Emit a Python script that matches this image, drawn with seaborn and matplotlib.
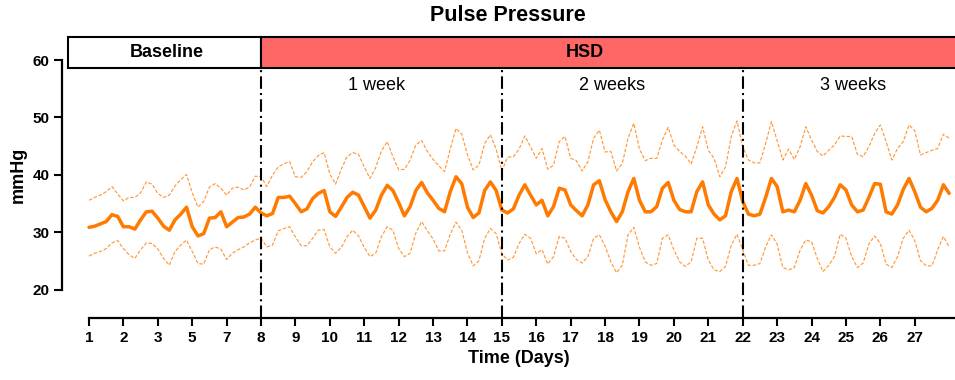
import numpy as np
import pandas as pd
import matplotlib
matplotlib.use("Agg")
import matplotlib.pyplot as plt
from matplotlib.patches import Rectangle
import seaborn as sns

# ---------------- data ----------------
tick_labels = ["1", "2", "3", "5", "7", "8", "9", "10", "11", "12", "13", "14", "15",
               "16", "17", "18", "19", "20", "21", "22", "23", "24", "25", "26", "27"]
samples_per_tick = 6          # readings every 1/6 of a tick interval (4 h)

mean_pp = [
    30.9, 31.1, 31.5, 31.9, 33.1, 32.8, 31.0, 31.0, 30.6, 32.2, 33.6, 33.7, 32.5, 31.1, 30.4, 32.2,
    33.2, 34.4, 31.0, 29.4, 29.8, 32.5, 32.6, 33.6, 31.0, 31.8, 32.6, 32.7, 33.2, 34.4, 33.4,
    32.9, 33.3, 36.1, 36.1, 36.3, 35.0, 33.6, 34.1, 35.9, 36.8, 37.3, 33.6, 32.8, 34.4, 36.1,
    37.0, 36.5, 34.5, 32.5, 33.9, 36.5, 38.2, 37.3, 35.2, 32.9, 34.5, 37.3, 38.7, 36.9, 35.6,
    34.2, 33.6, 37.1, 39.7, 38.5, 34.4, 32.6, 33.4, 37.3, 38.8, 37.3, 33.9, 33.4, 34.1, 36.5,
    38.3, 36.5, 34.8, 35.6, 32.9, 34.5, 37.7, 37.4, 34.8, 33.8, 32.9, 34.8, 38.3, 39.0, 35.7,
    33.6, 31.9, 33.6, 37.1, 39.4, 35.6, 33.6, 33.6, 34.5, 37.7, 38.7, 35.6, 34.0, 33.6, 33.6,
    37.1, 38.8, 34.8, 33.2, 32.2, 32.9, 37.1, 39.4, 35.4, 33.2, 32.9, 33.2, 36.1, 39.4, 38.0,
    33.6, 33.9, 33.6, 35.6, 38.5, 36.5, 33.8, 33.4, 34.5, 36.1, 38.3, 37.4, 34.8, 33.6, 33.9,
    36.1, 38.5, 38.4, 33.6, 33.2, 34.8, 37.5, 39.4, 37.1, 34.4, 33.6, 34.2, 35.6, 38.3, 36.8,
]
upper_pp = [
    35.6, 36.1, 36.5, 37.1, 38.0, 36.7, 35.5, 36.1, 36.1, 36.9, 38.8, 38.4, 36.8, 36.1, 36.5, 38.1,
    39.2, 40.1, 36.9, 34.4, 35.4, 37.9, 38.5, 37.7, 36.5, 37.7, 37.9, 37.4, 37.9, 39.8, 39.7,
    38.0, 40.0, 41.4, 42.0, 42.3, 39.7, 39.6, 40.6, 42.3, 43.4, 43.9, 40.2, 38.4, 41.0, 43.2,
    43.9, 43.6, 41.4, 39.4, 41.3, 44.2, 45.8, 43.2, 40.9, 41.0, 42.6, 45.2, 46.0, 44.1, 42.7,
    41.6, 40.6, 44.5, 48.1, 47.1, 43.5, 40.9, 41.7, 45.5, 47.0, 44.5, 40.7, 43.1, 43.2, 44.5,
    46.8, 44.9, 42.9, 44.6, 41.0, 41.7, 45.8, 46.7, 42.9, 42.5, 40.7, 42.3, 46.4, 47.8, 44.0,
    44.1, 40.7, 42.0, 46.4, 49.0, 44.5, 42.5, 42.9, 42.9, 46.1, 48.3, 45.2, 44.1, 43.3, 41.9,
    44.9, 48.4, 44.3, 42.9, 39.7, 41.4, 46.7, 49.4, 44.9, 42.6, 42.1, 42.1, 45.5, 49.3, 46.0,
    42.6, 44.5, 42.7, 44.9, 48.4, 46.1, 44.1, 43.3, 44.3, 45.2, 46.8, 46.7, 46.7, 43.6, 43.2,
    44.9, 47.2, 48.7, 45.8, 42.6, 44.6, 45.8, 48.7, 47.7, 43.5, 43.9, 44.3, 44.6, 47.1, 46.4,
]
lower_pp = [
    25.9, 26.4, 26.7, 27.2, 28.2, 28.6, 27.2, 26.1, 25.5, 27.0, 28.2, 28.1, 27.1, 25.5, 24.3, 26.7,
    27.8, 28.7, 26.7, 24.6, 24.5, 27.0, 27.5, 27.1, 25.3, 26.4, 27.0, 27.5, 28.2, 28.7, 29.0,
    27.5, 27.8, 30.3, 30.7, 31.0, 29.2, 27.7, 27.7, 29.0, 30.4, 30.5, 27.5, 26.4, 27.4, 29.3,
    30.4, 29.4, 27.4, 25.8, 26.4, 29.3, 31.0, 30.4, 27.2, 25.8, 26.4, 29.9, 31.9, 30.3, 28.9,
    26.8, 26.8, 29.7, 31.8, 30.4, 26.5, 24.2, 25.1, 29.0, 30.7, 29.8, 26.3, 25.2, 25.7, 28.1,
    29.7, 29.0, 26.3, 27.0, 24.5, 25.8, 29.3, 29.0, 26.7, 25.3, 24.7, 25.8, 29.0, 29.6, 27.6,
    24.9, 23.0, 24.3, 29.6, 30.9, 27.4, 24.9, 24.3, 24.6, 29.0, 29.6, 27.0, 24.9, 24.1, 24.9,
    29.0, 29.0, 25.2, 23.5, 23.2, 24.1, 27.8, 29.7, 27.0, 24.3, 24.3, 24.6, 27.5, 29.6, 28.0,
    23.9, 23.5, 23.9, 26.9, 28.7, 28.4, 25.5, 23.2, 24.3, 25.8, 29.7, 29.0, 25.8, 23.9, 24.7,
    28.0, 29.4, 28.1, 24.5, 23.9, 25.8, 29.0, 30.4, 28.6, 25.1, 24.2, 24.2, 27.0, 29.3, 27.5,
]
phase_names = ["Baseline", "HSD"]
phase_bounds = [5, 12, 19]            # tick index of day 8, 15, 22
week_labels = ["1 week", "2 weeks", "3 weeks"]
week_label_pos = [8.35, 15.2, 22.2]
y_ticks = [20, 30, 40, 50, 60]

# ---------------- build frame ----------------
n = len(mean_pp)
assert n == len(upper_pp) == len(lower_pp)
t = np.arange(n) / samples_per_tick
df = pd.DataFrame({"t": t, "mean": mean_pp, "upper": upper_pp, "lower": lower_pp})

sns.set_theme(style="ticks")
plt.rcParams["font.family"] = ["Liberation Sans", "DejaVu Sans"]
plt.rcParams.update({"text.color": "black", "axes.labelcolor": "black",
                     "xtick.color": "black", "ytick.color": "black",
                     "axes.edgecolor": "black"})

fig = plt.figure(figsize=(9.55, 3.8), dpi=100)
ax = fig.add_axes([62 / 955, 1 - 318 / 380, 1 - 62 / 955, (318 - 60) / 380])

orange = "#FF7A00"
band_color = "#FF9A3C"
sns.lineplot(data=df, x="t", y="upper", ax=ax, color=band_color, lw=0.85,
             linestyle=(0, (3, 1.5)), errorbar=None)
sns.lineplot(data=df, x="t", y="lower", ax=ax, color=band_color, lw=0.85,
             linestyle=(0, (3, 1.5)), errorbar=None)
sns.lineplot(data=df, x="t", y="mean", ax=ax, color=orange, lw=2.5, errorbar=None)

xmin, xmax = -0.785, 25.17
ymin, ymax = 15.13, 60.0
ax.set_xlim(xmin, xmax)
ax.set_ylim(ymin, ymax)

# phase separators
box_bottom, box_top = 58.6, 64.0
ax.vlines(phase_bounds, ymin, box_bottom, colors="black", linestyles=(0, (6, 2, 1, 2)),
          lw=1.5, clip_on=False, zorder=5)

# header boxes
ax.add_patch(Rectangle((-0.61, box_bottom), phase_bounds[0] + 0.61, box_top - box_bottom,
                       facecolor="white", edgecolor="black", lw=1.5, clip_on=False, zorder=6))
ax.add_patch(Rectangle((phase_bounds[0], box_bottom), 22, box_top - box_bottom,
                       facecolor="#FF6666", edgecolor="black", lw=1.5, clip_on=False, zorder=6))
ax.text(2.25, (box_bottom + box_top) / 2, phase_names[0], ha="center", va="center",
        fontsize=13, fontweight="bold", zorder=7, clip_on=False)
ax.text(14.4, (box_bottom + box_top) / 2, phase_names[1], ha="center", va="center",
        fontsize=13, fontweight="bold", zorder=7, clip_on=False)

for lab, pos in zip(week_labels, week_label_pos):
    ax.text(pos, 55.5, lab, ha="center", va="center", fontsize=13)

# axes styling
ax.set_xticks(range(len(tick_labels)))
ax.set_xticklabels(tick_labels, fontsize=11, fontweight="bold")
ax.set_yticks(y_ticks)
ax.set_yticklabels([str(v) for v in y_ticks], fontsize=11, fontweight="bold")
ax.tick_params(axis="both", width=1.5, length=6, pad=3, color="black", labelcolor="black")
for s in ["top", "right"]:
    ax.spines[s].set_visible(False)
for s in ["left", "bottom"]:
    ax.spines[s].set_linewidth(1.6)
    ax.spines[s].set_color("black")
ax.spines["left"].set_bounds(20, 60)
ax.spines["bottom"].set_bounds(0, xmax)

ax.set_xlabel("Time (Days)", fontsize=13, fontweight="bold", color="black")
ax.xaxis.set_label_coords((519 - 62) / (955 - 62), -0.125)
ax.set_ylabel("")
fig.text(18 / 955, 1 - 175 / 380, "mmHg", rotation=90, ha="center", va="center",
         fontsize=13, fontweight="bold")
fig.text(508 / 955, 1 - 15.5 / 380, "Pulse Pressure", ha="center", va="center",
         fontsize=15.5, fontweight="bold")

fig.savefig("out.png", dpi=100)
